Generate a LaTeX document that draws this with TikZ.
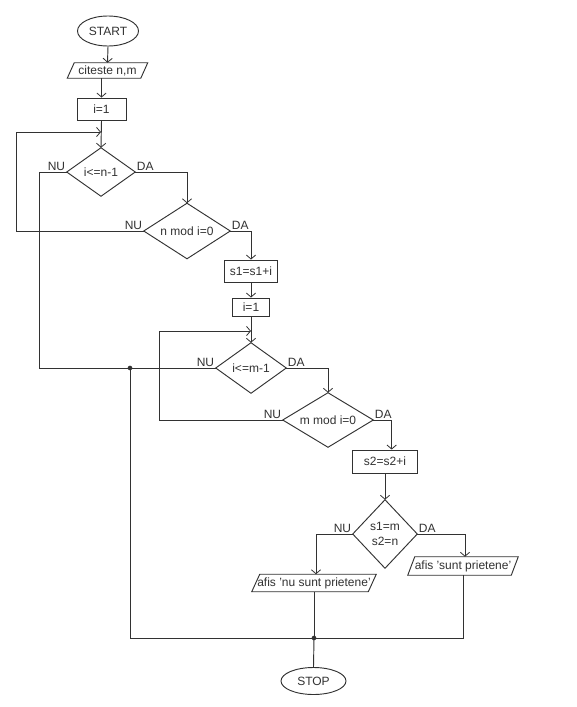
\documentclass[tikz,border=0pt]{standalone}
\usepackage{fontspec}
\setmainfont{Liberation Sans}
\usetikzlibrary{shapes.geometric,arrows.meta}
\definecolor{ink}{RGB}{50,50,50}
\tikzset{
  sz/.style 2 args={minimum width=#1*0.75pt, minimum height=#2*0.75pt},
  base/.style={inner sep=0pt, text=ink, font=\fontsize{9}{11.2}\selectfont},
  term/.style={base, ellipse, draw=ink, line width=0.7pt},
  proc/.style={base, rectangle, draw=ink, line width=0.7pt},
  hold/.style={base, rectangle, draw=none, align=center},
  ln/.style={draw=ink, line width=0.7pt},
  arr/.style={-{Straight Barb[length=3pt,width=7pt,line width=0.6pt]}},
  lbl/.style={base, inner sep=1pt},
  dot/.style={circle, fill=ink, inner sep=0pt, minimum size=3.5pt}
}
\begin{document}
\begin{tikzpicture}[x=0.75pt,y=-0.75pt]
\useasboundingbox (0,0) rectangle (576,707);
\fill[white] (0,0) rectangle (576,707);

% nodes
\node[term, sz={61}{30}] (start) at (108,31) {START};
\node[hold, sz={80}{15}] (read) at (107.5,70.5) {citeste n,m};
\node[proc, sz={49}{22}] (box1) at (101.5,109) {i=1};
\node[hold, sz={68}{48}] (d1) at (101,172) {i<=n-1};
\node[hold, sz={86}{55}] (d2) at (187,231) {n mod i=0};
\node[proc, sz={53}{22}] (s1) at (251,271) {s1=s1+i};
\node[proc, sz={37}{18}] (box2) at (251,307) {i=1};
\node[hold, sz={70}{50}] (d3) at (251,368) {i<=m-1};
\node[hold, sz={90}{54}] (d4) at (328,420) {m mod i=0};
\node[proc, sz={65}{23}] (s2) at (385,461.5) {s2=s2+i};
\node[hold, sz={64}{68}] (d5) at (385,534) {s1=m\\s2=n};
\node[hold, sz={124}{17}] (pnu) at (314,583) {afis 'nu sunt prietene'};
\node[hold, sz={110}{18}] (psunt) at (463,566) {afis 'sunt prietene'};
\node[term, sz={65}{27}] (stop) at (313.5,681) {STOP};

% shapes drawn from anchors
\draw[ln] ([xshift=5.25pt]read.north west) -- (read.north east) -- ([xshift=-5.25pt]read.south east) -- (read.south west) -- cycle;
\draw[ln] ([xshift=6pt]pnu.north west) -- (pnu.north east) -- ([xshift=-6pt]pnu.south east) -- (pnu.south west) -- cycle;
\draw[ln] ([xshift=5.25pt]psunt.north west) -- (psunt.north east) -- ([xshift=-5.25pt]psunt.south east) -- (psunt.south west) -- cycle;
\foreach \d in {d1,d2,d3,d4,d5}
  \draw[ln] (\d.north) -- (\d.east) -- (\d.south) -- (\d.west) -- cycle;

% labels
\node[lbl, anchor=south east] (nu1) at (d1.west) {NU};
\node[lbl, anchor=south west] (da1) at (d1.east) {DA};
\node[lbl, anchor=south east] (nu2) at (d2.west) {NU};
\node[lbl, anchor=south west] (da2) at (d2.east) {DA};
\node[lbl, anchor=south east] (nu3) at (d3.west) {NU};
\node[lbl, anchor=south west] (da3) at (d3.east) {DA};
\node[lbl, anchor=south east] (nu4) at (d4.west) {NU};
\node[lbl, anchor=south west] (da4) at (d4.east) {DA};
\node[lbl, anchor=south east] (nu5) at (d5.west) {NU};
\node[lbl, anchor=south west] (da5) at (d5.east) {DA};

% helper coordinates
\coordinate (j1) at (101,132);
\coordinate (l1) at (16,132);
\coordinate (j2) at (251,331);
\coordinate (l2) at (159,331);
\coordinate (c1) at (39,368);
\coordinate (dotA) at (130,368);
\coordinate (dotB) at (314,638);

% connectors
\draw[ln,arr] (start.south) -- (read.north);
\draw[ln,arr] (read.south -| box1.north) -- (box1.north);
\draw[ln,arr] (box1.south) -- (d1.north);
\draw[ln,arr] (d2.west) -| (l1) -- (j1);
\draw[ln,arr] (d1.east) -| (d2.north);
\draw[ln,arr] (d2.east) -| (s1.north);
\draw[ln,arr] (s1.south) -- (box2.north);
\draw[ln,arr] (box2.south) -- (d3.north);
\draw[ln,arr] (d4.west) -| (l2) -- (j2);
\draw[ln,arr] (d3.east) -| (d4.north);
\draw[ln,arr] (d4.east) -| ([xshift=5pt]s2.north);
\draw[ln,arr] (s2.south) -- (d5.north);
\draw[ln,arr] (d5.west) -| ([xshift=1.5pt]pnu.north);
\draw[ln,arr] (d5.east) -| ([xshift=1.5pt]psunt.north);
\draw[ln] (d1.west) -| (c1) -- (d3.west);
\draw[ln] (dotA) |- (dotB);
\draw[ln] (psunt.south) |- (dotB);
\draw[ln] (pnu.south) -- (dotB);
\draw[ln] (dotB) -- (stop.north);
\node[dot] (dA) at (dotA) {};
\node[dot] (dB) at (dotB) {};
\end{tikzpicture}
\end{document}
